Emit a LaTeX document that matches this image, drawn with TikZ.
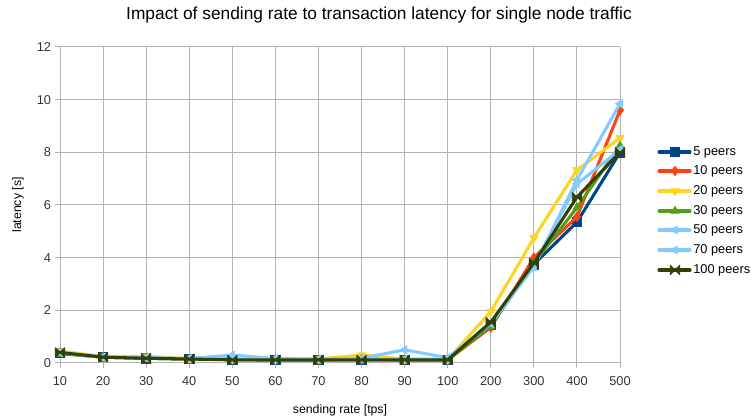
\documentclass[tikz,border=0pt]{standalone}
\usepackage{fontspec}
\setmainfont{Liberation Sans}
\usetikzlibrary{plotmarks}
\definecolor{ink}{HTML}{000000}
\definecolor{tickc}{HTML}{333333}
\definecolor{gridc}{HTML}{B3B3B3}
\definecolor{cfive}{HTML}{004586}
\definecolor{cten}{HTML}{FF420E}
\definecolor{ctwenty}{HTML}{FFD320}
\definecolor{cthirty}{HTML}{579D1C}
\definecolor{cfifty}{HTML}{83CAFF}
\definecolor{cseventy}{HTML}{83CAFF}
\definecolor{chundred}{HTML}{314004}
\pgfdeclareplotmark{bowtie}{%
  \pgfpathmoveto{\pgfqpoint{-\pgfplotmarksize}{\pgfplotmarksize}}%
  \pgfpathlineto{\pgfqpoint{\pgfplotmarksize}{-\pgfplotmarksize}}%
  \pgfpathlineto{\pgfqpoint{\pgfplotmarksize}{\pgfplotmarksize}}%
  \pgfpathlineto{\pgfqpoint{-\pgfplotmarksize}{-\pgfplotmarksize}}%
  \pgfpathclose\pgfusepathqfillstroke}

\begin{document}
\begin{tikzpicture}[x=0.75pt,y=0.75pt,
  grid/.style={draw=gridc,line width=0.75pt},
  tick/.style={font=\fontsize{9.6}{11}\selectfont,text=tickc,inner sep=0pt},
  lab/.style={font=\fontsize{9.2}{11}\selectfont,text=ink,inner sep=0pt},
  leg/.style={font=\fontsize{9.6}{11}\selectfont,text=ink,inner sep=0pt},
  series/.style={line width=2.3pt,line join=round,line cap=round,mark size=3.5pt},
  s5/.style={series,draw=cfive,mark=square*,mark options={fill=cfive,draw=cfive,line width=0.6pt}},
  s10/.style={series,draw=cten,mark=diamond*,mark options={fill=cten,draw=cten,line width=0.6pt}},
  s20/.style={series,draw=ctwenty,mark=triangle*,mark options={fill=ctwenty,draw=ctwenty,line width=0.6pt,rotate=180}},
  s30/.style={series,draw=cthirty,mark=triangle*,mark options={fill=cthirty,draw=cthirty,line width=0.6pt}},
  s50/.style={series,draw=cfifty,mark=triangle*,mark options={fill=cfifty,draw=cfifty,line width=0.6pt,rotate=90}},
  s70/.style={series,draw=cseventy,mark=triangle*,mark options={fill=cseventy,draw=cseventy,line width=0.6pt,rotate=90}},
  s100/.style={series,draw=chundred,mark=bowtie,mark options={fill=chundred,draw=chundred,line width=0.6pt}}]
\useasboundingbox (0,0) rectangle (751,420);
\node[font=\fontsize{13}{15}\selectfont,text=ink,inner sep=0pt] (title) at (379,405) {Impact of sending rate to transaction latency for single node traffic};
\node[lab,rotate=90] (ytitle) at (18,215) {latency [s]};
\node[lab] (xtitle) at (340,10) {sending rate [tps]};
\begin{scope}[shift={(60,57)},x=32.31pt,y=19.75pt]
\foreach \i in {0,...,13}
  \draw[grid] (\i,-0.19) -- (\i,12);
\foreach \v in {0,2,...,12} {
  \draw[grid] (-0.116,\v) -- (13,\v);
  \node[tick,anchor=east] (yt\v) at (-0.2,\v) {\v};
}
\foreach \l [count=\i from 0] in {10,20,30,40,50,60,70,80,90,100,200,300,400,500}
  \node[tick,anchor=north] (xt\l) at (\i,-0.5) {\l};
\draw[s5] plot coordinates {(0,0.38) (1,0.22) (2,0.18) (3,0.15) (4,0.13) (5,0.12) (6,0.12) (7,0.12) (8,0.12) (9,0.12) (10,1.45) (11,3.75) (12,5.35) (13,8.0)};
\draw[s10] plot coordinates {(0,0.40) (1,0.22) (2,0.20) (3,0.15) (4,0.13) (5,0.12) (6,0.12) (7,0.13) (8,0.12) (9,0.12) (10,1.35) (11,4.0) (12,5.55) (13,9.6)};
\draw[s20] plot coordinates {(0,0.45) (1,0.25) (2,0.25) (3,0.17) (4,0.15) (5,0.13) (6,0.15) (7,0.30) (8,0.15) (9,0.13) (10,1.95) (11,4.75) (12,7.33) (13,8.55)};
\draw[s30] plot coordinates {(0,0.35) (1,0.22) (2,0.18) (3,0.15) (4,0.13) (5,0.12) (6,0.12) (7,0.14) (8,0.12) (9,0.12) (10,1.40) (11,3.8) (12,5.9) (13,8.25)};
\draw[s50] plot coordinates {(0,0.40) (1,0.22) (2,0.20) (3,0.17) (4,0.30) (5,0.17) (6,0.15) (7,0.18) (8,0.50) (9,0.20) (10,1.50) (11,3.65) (12,6.95) (13,9.85)};
\draw[s70] plot coordinates {(0,0.40) (1,0.22) (2,0.20) (3,0.15) (4,0.15) (5,0.15) (6,0.13) (7,0.14) (8,0.14) (9,0.15) (10,1.55) (11,3.7) (12,6.8) (13,8.1)};
\draw[s100] plot coordinates {(0,0.40) (1,0.22) (2,0.18) (3,0.15) (4,0.12) (5,0.12) (6,0.12) (7,0.12) (8,0.12) (9,0.12) (10,1.55) (11,3.8) (12,6.3) (13,8.0)};
\end{scope}
\foreach \s/\t/\y in {s5/5 peers/268,s10/10 peers/249,s20/20 peers/229,s30/30 peers/209,s50/50 peers/190,s70/70 peers/170,s100/100 peers/150} {
  \draw[\s,mark indices={2}] plot coordinates {(659,\y) (675,\y) (690,\y)};
  \node[leg,anchor=west] (leg\s) at (693,\y) {\t};
}
\end{tikzpicture}
\end{document}
